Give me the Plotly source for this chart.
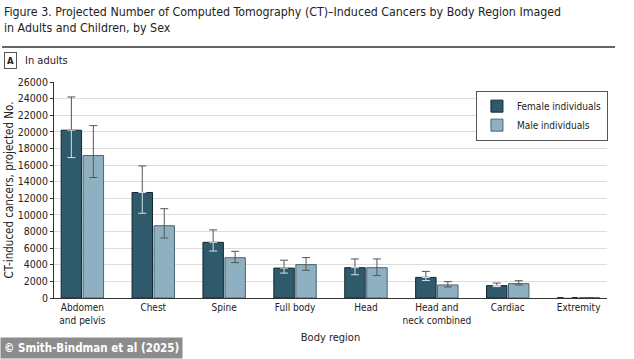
import plotly.graph_objects as go

categories = ["Abdomen<br>and pelvis", "Chest", "Spine", "Full body", "Head",
              "Head and<br>neck combined", "Cardiac", "Extremity"]
female = [20200, 12700, 6700, 3600, 3650, 2480, 1490, 40]
female_hi = [24200, 15900, 8200, 4550, 4700, 3200, 1800, 60]
female_lo = [16900, 10200, 5650, 3000, 2800, 2100, 1370, 25]
male = [17150, 8700, 4850, 4020, 3650, 1570, 1730, 40]
male_hi = [20750, 10750, 5620, 4860, 4700, 1970, 2080, 60]
male_lo = [14500, 7220, 4260, 3330, 2700, 1330, 1570, 25]
ytick_vals = list(range(0, 26001, 2000))
ytick_text = [str(v) for v in ytick_vals]

FONT = "DejaVu Sans Condensed, Roboto, sans-serif"
F_COL = "#2e5a6b"
M_COL = "#8fb0c0"

fig = go.Figure()
fig.add_trace(go.Bar(
    x=categories, y=female, name="Female individuals", offsetgroup="F",
    marker=dict(color=F_COL, line=dict(color="#15262e", width=1)),
    error_y=dict(type="data", symmetric=False,
                 array=[h - v for h, v in zip(female_hi, female)],
                 arrayminus=[0] * len(female),
                 color="#555555", thickness=1, width=4),
))
fig.add_trace(go.Bar(
    x=categories, y=male, name="Male individuals", offsetgroup="M",
    marker=dict(color=M_COL, line=dict(color="#4a6572", width=1)),
    error_y=dict(type="data", symmetric=False,
                 array=[h - v for h, v in zip(male_hi, male)],
                 arrayminus=[v - l for v, l in zip(male, male_lo)],
                 color="#555555", thickness=1, width=4),
))
# lower (inside-bar) part of female error bars in light colour
fig.add_trace(go.Bar(
    x=categories, y=female, offsetgroup="F", showlegend=False, hoverinfo="skip",
    marker=dict(color="rgba(0,0,0,0)", line=dict(width=0)),
    error_y=dict(type="data", symmetric=False,
                 array=[0] * len(female),
                 arrayminus=[v - l for v, l in zip(female, female_lo)],
                 color="#d4e0e6", thickness=1, width=4),
))

fig.update_layout(
    width=634, height=359,
    margin=dict(l=54, r=27, t=82, b=61),
    paper_bgcolor="white", plot_bgcolor="white",
    barmode="group", bargap=0.38, bargroupgap=0.07,
    font=dict(family=FONT, size=10, color="#222222"),
    showlegend=True,
    legend=dict(x=0.763, y=0.96, xanchor="left", yanchor="top",
                bordercolor="#555555", borderwidth=1, bgcolor="white",
                itemwidth=30,
                font=dict(family=FONT, size=10), tracegroupgap=2),
    xaxis=dict(range=[-0.4, 7.4], showline=True, linecolor="#333333", linewidth=1,
               ticks="", showgrid=False, automargin=False,
               tickfont=dict(size=10),
               title=dict(text="Body region", font=dict(family=FONT, size=11), standoff=8)),
    yaxis=dict(range=[0, 26000], tickvals=ytick_vals, ticktext=ytick_text,
               showline=True, linecolor="#333333", linewidth=1, automargin=False,
               ticks="outside", ticklen=3, tickcolor="#333333",
               tickfont=dict(size=10.5),
               showgrid=True, gridcolor="#dddddd", gridwidth=1, zeroline=False,
               title=dict(text="CT-induced cancers, projected No.",
                          font=dict(family=FONT, size=11.5), standoff=1)),
)

fig.add_annotation(xref="paper", yref="paper", x=-52/553, y=1 + (82 - 3) / 216,
                   xanchor="left", yanchor="top", align="left", showarrow=False,
                   text="Figure 3. Projected Number of Computed Tomography (CT)–Induced Cancers by Body Region Imaged<br>in Adults and Children, by Sex",
                   font=dict(family=FONT, size=12.3, color="#222222"))
fig.add_shape(type="line", xref="paper", yref="paper",
              x0=-52/553, x1=1 + 8/553, y0=1 + 35/216, y1=1 + 35/216,
              line=dict(color="#333333", width=1.5))
fig.add_annotation(xref="paper", yref="paper", x=-50/553, y=1 + 21/216,
                   xanchor="left", yanchor="middle", showarrow=False,
                   text="<b>A</b>", bordercolor="#555555", borderwidth=1, borderpad=2,
                   font=dict(family=FONT, size=9.5, color="#222222"))
fig.add_annotation(xref="paper", yref="paper", x=-31/553, y=1 + 21/216,
                   xanchor="left", yanchor="middle", showarrow=False,
                   text="In adults", font=dict(family=FONT, size=11, color="#222222"))
fig.add_annotation(xref="paper", yref="paper", x=-54/553, y=-61 / 216,
                   xanchor="left", yanchor="bottom", showarrow=False,
                   text="<b>© Smith-Bindman et al (2025)</b>", bgcolor="#8c8c8c",
                   borderpad=3, font=dict(family=FONT, size=11.5, color="white"))

fig.write_html("out.html", config={"displayModeBar": False},
               post_script="document.body.style.margin='0';")
